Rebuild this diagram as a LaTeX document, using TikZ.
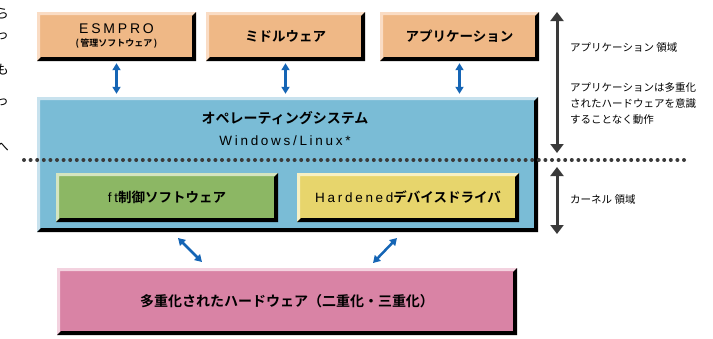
\documentclass[tikz,border=0pt]{standalone}
\usepackage{fontspec}
\setmainfont{Noto Sans CJK JP}[BoldFont={Noto Sans CJK JP Bold}]
\newfontfamily\spaced{Liberation Sans}[LetterSpace=20]
\usepackage{tikz}
\usetikzlibrary{arrows.meta}

\definecolor{appfill}{HTML}{EFB886}
\definecolor{applight}{HTML}{FADCC4}
\definecolor{osfill}{HTML}{7ABCD6}
\definecolor{oslight}{HTML}{C8E2EE}
\definecolor{ftfill}{HTML}{8CB764}
\definecolor{ftlight}{HTML}{D5E5C0}
\definecolor{drvfill}{HTML}{E7D56C}
\definecolor{drvlight}{HTML}{F7F0C3}
\definecolor{hwfill}{HTML}{D983A5}
\definecolor{hwlight}{HTML}{F3D2DF}
\definecolor{linkblue}{HTML}{1565B5}
\definecolor{spangray}{HTML}{3A3A3A}

\begin{document}
\begin{tikzpicture}[x=1pt, y=-1pt,
    bevel/.style={path picture={
      \fill[#1] (path picture bounding box.south west) -- (path picture bounding box.north west)
        -- (path picture bounding box.north east) -- ([shift={(-3pt,-3pt)}]path picture bounding box.north east)
        -- ([shift={(3pt,-3pt)}]path picture bounding box.north west) -- ([shift={(3pt,3pt)}]path picture bounding box.south west) -- cycle;
      \fill[black] (path picture bounding box.south west) -- (path picture bounding box.south east)
        -- (path picture bounding box.north east) -- ([shift={(-4pt,-4pt)}]path picture bounding box.north east)
        -- ([shift={(-4pt,4pt)}]path picture bounding box.south east) -- ([shift={(4pt,4pt)}]path picture bounding box.south west) -- cycle;}},
    layer/.style={rectangle, inner sep=0pt, minimum width=159pt, minimum height=49pt, align=center,
      font=\fontsize{13.5}{16}\selectfont\bfseries},
    app/.style={layer, fill=appfill, bevel=applight},
    mod/.style={layer, minimum width=222pt},
    link/.style={linkblue, line width=2.5pt, >={Triangle[width=8pt,length=7pt]}, <->},
    span/.style={spangray, line width=3pt, >={Triangle[width=13pt,length=9pt]}, <->},
    note/.style={anchor=west, inner sep=0pt, align=left, font=\fontsize{10.5}{16}\selectfont},
    cut/.style={anchor=east, inner sep=0pt, font=\fontsize{13}{15}\selectfont}
    ]
    \useasboundingbox (0,0) rectangle (713,338);

    % clipped text from the page beside
    \foreach \ch/\y [count=\i] in {ら/14, っ/36, も/70, っ/102, へ/147}
      \node[cut] (cut\i) at (9,\y) {\ch};

    % application layer
    \node[app] (esmpro) at (116.5,36.5) {{\spaced\fontsize{14}{15}\selectfont\mdseries ESMPRO}\\[-3pt]
      {\fontsize{9}{10}\selectfont (\,管理ソフトウェア\,)}};
    \node[app] (middle) at (285.5,36.5) {ミドルウェア};
    \node[app] (appl) at (459.5,36.5) {アプリケーション};

    % operating system
    \node[layer, minimum width=501pt, minimum height=135pt, fill=osfill, bevel=oslight] (os) at (287.5,164.5) {};
    \node (osname) at (285,118) {\fontsize{14}{16}\selectfont\bfseries オペレーティングシステム};
    \node (oskind) at (285,141) {\spaced\fontsize{13.5}{15}\selectfont Windows/Linux*};

    \draw[spangray, line width=4pt, line cap=round, dash pattern=on 0pt off 6.6pt] (24,160) -- (688,160);

    \node[mod, fill=ftfill, bevel=ftlight] (ft) at (167,197.5) {{\spaced\mdseries ft}制御ソフトウェア};
    \node[mod, fill=drvfill, bevel=drvlight] (drv) at (408,197.5) {{\spaced\mdseries Hardened}デバイスドライバ};

    % hardware
    \node[layer, minimum width=460pt, minimum height=67pt, fill=hwfill, bevel=hwlight,
      font=\fontsize{14}{16}\selectfont\bfseries] (hw) at (287,301.5)
      {多重化されたハードウェア（二重化・三重化）};

    \foreach \layername in {esmpro, middle, appl}
      \draw[link, shorten <=2pt, shorten >=3pt] (\layername.south) -- (\layername.south |- os.north);

    \coordinate (ftlink) at (178,238);
    \coordinate (hwlinkl) at (202,262);
    \coordinate (drvlink) at (397,238);
    \coordinate (hwlinkr) at (373,263);
    \draw[link] (ftlink) -- (hwlinkl);
    \draw[link] (drvlink) -- (hwlinkr);

    % spans on the right
    \coordinate (usertop) at (557,12);
    \coordinate (userbot) at (557,153);
    \coordinate (kerntop) at (557,167);
    \coordinate (kernbot) at (557,234);
    \draw[span] (usertop) -- (userbot);
    \draw[span] (kerntop) -- (kernbot);

    \node[note] (userarea) at (570,48) {アプリケーション 領域};
    \node[note] (usernote) at (570,104) {アプリケーションは多重化\\されたハードウェアを意識\\することなく動作};
    \node[note] (kernarea) at (570,200) {カーネル 領域};
\end{tikzpicture}
\end{document}
